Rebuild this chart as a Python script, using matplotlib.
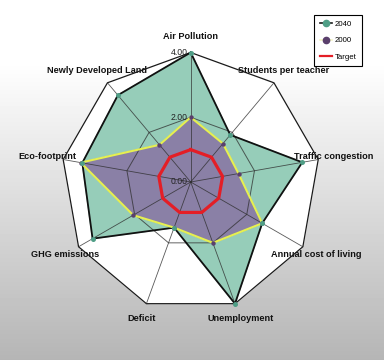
"""Radar chart: 2040 vs 2000 indicators against a target ring."""
import numpy as np
import matplotlib
matplotlib.use("Agg")
import matplotlib.pyplot as plt
from matplotlib.lines import Line2D
from matplotlib.transforms import offset_copy

plt.rcParams.update({
    "font.family": ["Liberation Sans", "DejaVu Sans"],
    "font.size": 7,
})

# Data (clockwise from the top)
categories = [
    "Air Pollution", "Students per teacher", "Traffic congestion",
    "Annual cost of living", "Unemployment", "Deficit",
    "GHG emissions", "Eco-footprint", "Newly Developed Land",
]
values_2040 = [4.0, 1.9, 3.5, 2.55, 4.0, 1.5, 3.5, 3.4, 3.5]
values_2000 = [2.0, 1.55, 1.5, 2.55, 2.0, 1.5, 2.05, 3.45, 1.5]
values_target = [1.0, 1.0, 1.0, 1.0, 1.0, 1.0, 1.0, 1.0, 1.0]
ring_levels = [2.0, 4.0]
radial_labels = ["0.00", "2.00", "4.00"]
radial_positions = [0.0, 2.0, 4.0]
R_MAX = 4.0

COL_2040_FILL = "#96cdb9"
COL_2040_EDGE = "#111111"
COL_2040_MARK = "#4f9e86"
COL_2000_FILL = "#8a80a6"
COL_2000_EDGE = "#e6f050"
COL_2000_MARK = "#5a3f6c"
COL_TARGET = "#e41e26"
COL_GRID = "#2f2f2f"

n = len(categories)
theta = np.arange(n) * 2 * np.pi / n


def closed(vals):
    return np.append(theta, theta[0]), np.append(vals, vals[0])


fig = plt.figure(figsize=(3.84, 3.60), dpi=100)

# gray gradient background
bg = fig.add_axes([0, 0, 1, 1], zorder=-10)
grad = np.clip(np.linspace(1.06, 0.71, 360), 0, 1)
bg.imshow(np.repeat(grad[:, None], 2, axis=1), cmap="gray", vmin=0, vmax=1,
          aspect="auto", extent=[0, 1, 0, 1])
bg.axis("off")

cx, cy, rad = 190.7, 360 - 182.0, 129.5
ax = fig.add_axes([(cx - rad) / 384, (cy - rad) / 360,
                   2 * rad / 384, 2 * rad / 360], projection="polar")
ax.set_theta_offset(np.pi / 2)
ax.set_theta_direction(-1)
ax.set_ylim(0, R_MAX)
ax.patch.set_alpha(0)
ax.spines["polar"].set_visible(False)
ax.grid(False)
ax.set_xticks([])
ax.set_yticks([])

# white plotting area
t, r = closed([R_MAX] * n)
ax.fill(t, r, color="white", zorder=1)

# series fills
t, r = closed(values_2040)
ax.fill(t, r, color=COL_2040_FILL, zorder=2)
t, r = closed(values_2000)
ax.fill(t, r, color=COL_2000_FILL, zorder=3)

# grid: rings and spokes
for lvl in ring_levels:
    outer = lvl >= R_MAX
    t, r = closed([lvl] * n)
    ax.plot(t, r, color="#1a1a1a" if outer else COL_GRID,
            lw=0.9 if outer else 0.7, alpha=1.0 if outer else 0.75,
            zorder=4, clip_on=False)
for a in theta:
    ax.plot([a, a], [0, R_MAX], color=COL_GRID, lw=0.6, alpha=0.8,
            zorder=4)

# outlines
t, r = closed(values_2040)
ax.plot(t, r, color=COL_2040_EDGE, lw=1.3, zorder=5, clip_on=False)
t, r = closed(values_2000)
ax.plot(t, r, color=COL_2000_EDGE, lw=1.5, zorder=6)
t, r = closed(values_target)
ax.plot(t, r, color=COL_TARGET, lw=2.3, zorder=7)

# markers
ax.plot(theta, values_2000, "o", color=COL_2000_MARK, ms=3.2, mew=0,
        zorder=8)
ax.plot(theta, values_2040, "o", color=COL_2040_MARK, ms=3.6, mew=0,
        zorder=9, clip_on=False)

# category labels
for a, lab in zip(theta, categories):
    ax.text(a, 4.48, lab, ha="center", va="center", fontsize=6.6,
            fontweight="bold", color="#111111", clip_on=False)

# radial value labels
trans = offset_copy(ax.transData, fig=fig, x=-2, y=0, units="points")
for rp, rl in zip(radial_positions, radial_labels):
    ax.text(0, rp, rl, ha="right", va="center", fontsize=6.2,
            color="#222222", transform=trans, zorder=10)

handles = [
    Line2D([0], [0], color="#1a1a1a", lw=1.2, marker="o", ms=4.5,
           markerfacecolor=COL_2040_MARK, markeredgecolor=COL_2040_MARK),
    Line2D([0], [0], color="#f3f6c8", lw=1.2, marker="o", ms=4.5,
           markerfacecolor=COL_2000_MARK, markeredgecolor=COL_2000_MARK),
    Line2D([0], [0], color=COL_TARGET, lw=1.6),
]
leg = fig.legend(handles=handles, labels=["2040", "2000", "Target"],
                 loc="upper right", bbox_to_anchor=(362 / 384, 1 - 15 / 360),
                 borderaxespad=0, fontsize=5.6, frameon=True, fancybox=False,
                 edgecolor="black", framealpha=1, handlelength=1.5,
                 handletextpad=0.4, labelspacing=1.15, borderpad=0.7)
leg.get_frame().set_linewidth(0.8)

fig.savefig("out.png", dpi=100)
